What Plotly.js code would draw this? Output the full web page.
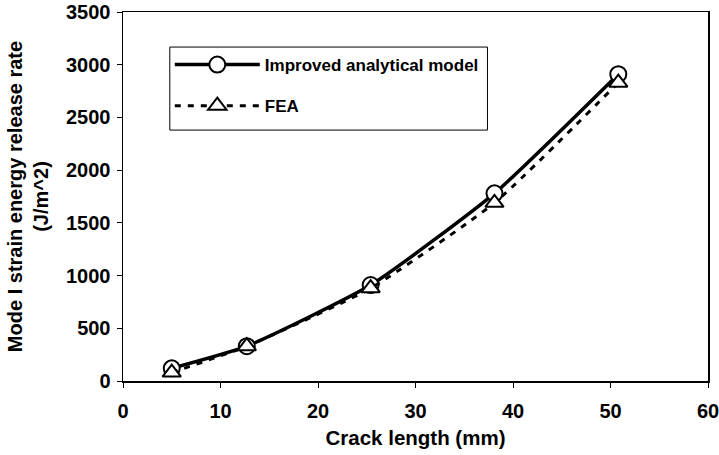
<!DOCTYPE html>
<html>
<head>
<meta charset="utf-8">
<script src="https://cdn.plot.ly/plotly-3.0.1.min.js"></script>
<style>html,body{margin:0;padding:0;background:#fff;}#chart{width:719px;height:455px;}</style>
</head>
<body>
<div id="chart"></div>
<script>
var crackLength = [5, 12.7, 25.4, 38.1, 50.8];
var analytical = [120, 330, 910, 1780, 2910];
var fea = [80, 330, 880, 1690, 2830];
var xTicks = [0, 10, 20, 30, 40, 50, 60];
var yTicks = [0, 500, 1000, 1500, 2000, 2500, 3000, 3500];

var fam = 'Liberation Sans, Arial, sans-serif';

var traces = [
  {
    x: crackLength, y: analytical, name: '<b>Improved analytical model</b>', legendgroup: 'a', legendrank: 1,
    mode: 'lines+markers', line: {color: '#000', width: 3.5, shape: 'spline', smoothing: 0.5},
    marker: {symbol: 'circle', size: 16, color: '#fff', line: {color: '#000', width: 2}}
  },
  {
    x: crackLength, y: fea, name: '<b>FEA</b>', legendgroup: 'b', legendrank: 2,
    mode: 'lines+markers', line: {color: '#000', width: 3, dash: '6px,7px', shape: 'spline', smoothing: 0.5},
    marker: {symbol: 'triangle-up', size: 16, color: '#fff', line: {color: '#000', width: 2}}
  }
];

var layout = {
  width: 719, height: 455,
  margin: {l: 123, r: 11, t: 12, b: 74},
  paper_bgcolor: '#fff', plot_bgcolor: '#fff',
  font: {family: fam, size: 20, color: '#000'},
  showlegend: true,
  legend: {
    x: 0.08, y: 0.905, xanchor: 'left', yanchor: 'top',
    bgcolor: 'rgba(0,0,0,0)', borderwidth: 0,
    font: {family: fam, size: 17, color: '#000'},
    traceorder: 'grouped', tracegroupgap: 16, itemwidth: 85
  },
  xaxis: {
    range: [0, 60], tickvals: xTicks, ticktext: xTicks.map(function(v){return '<b>'+v+'</b>';}),
    showgrid: false, zeroline: false, showline: true, linecolor: '#000', linewidth: 1.5, mirror: true,
    ticks: 'outside', ticklen: 5, tickcolor: '#000', tickfont: {size: 20}, ticklabeloverflow: 'allow',
    ticklabelstandoff: 6,
    title: {text: '<b>Crack length (mm)</b>', font: {size: 20.5}, standoff: 10}
  },
  yaxis: {
    range: [0, 3500], tickvals: yTicks, ticktext: yTicks.map(function(v){return '<b>'+v+'</b>';}),
    showgrid: false, zeroline: false, showline: true, linecolor: '#000', linewidth: 1.5, mirror: true,
    ticks: 'outside', ticklen: 5, tickcolor: '#000', tickfont: {size: 20}, ticklabeloverflow: 'allow',
    ticklabelstandoff: 2,
    title: {text: '<b>Mode I strain energy release rate<br>(J/m^2)</b>', font: {size: 20}, standoff: 12}
  },
  shapes: [
    {type: 'rect', xref: 'paper', yref: 'paper', x0: 0.08, x1: 0.623, y0: 0.68, y1: 0.905,
     line: {color: '#000', width: 1}, fillcolor: 'rgba(0,0,0,0)'}
  ]
};

Plotly.newPlot('chart', traces, layout, {displayModeBar: false, staticPlot: true});
</script>
</body>
</html>
